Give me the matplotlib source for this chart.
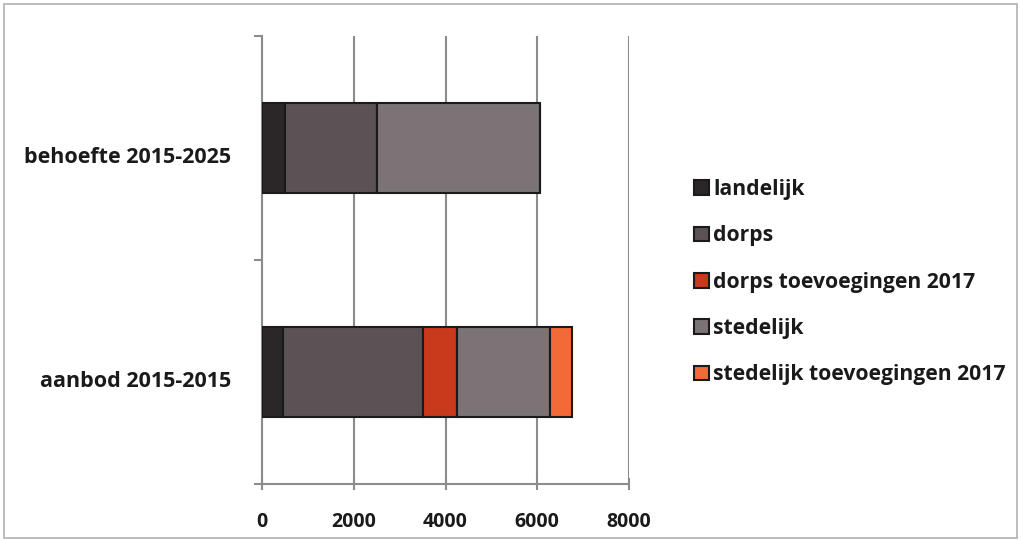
import matplotlib
matplotlib.use("Agg")
import matplotlib.pyplot as plt
from matplotlib.patches import Rectangle

categories = ["aanbod 2015-2015", "behoefte 2015-2025"]
series = ["landelijk", "dorps", "dorps toevoegingen 2017", "stedelijk", "stedelijk toevoegingen 2017"]
values = {
    "landelijk": [460, 500],
    "dorps": [3040, 2000],
    "dorps toevoegingen 2017": [750, 0],
    "stedelijk": [2030, 3550],
    "stedelijk toevoegingen 2017": [480, 0],
}
colors = ["#2b2627", "#5a5254", "#c9391b", "#7b7376", "#f26a36"]
xticks = [0, 2000, 4000, 6000, 8000]

plt.rcParams["font.family"] = ["Open Sans", "DejaVu Sans"]
plt.rcParams["font.weight"] = "bold"
plt.rcParams["text.color"] = "#1a1a1a"
plt.rcParams["xtick.labelcolor"] = "#1a1a1a"
plt.rcParams["ytick.labelcolor"] = "#1a1a1a"

fig = plt.figure(figsize=(10.21, 5.40), dpi=100)
ax = fig.add_axes([262 / 1021, 1 - 484 / 540, (629 - 262) / 1021, (484 - 36) / 540])

# stacked horizontal bars, one segment per series
left = [0, 0]
for name, col in zip(series, colors):
    vals = values[name]
    ax.barh([0, 1], vals, left=left, height=0.4, color=col,
            edgecolor="#1a1a1a", linewidth=1.5, label=name, zorder=3)
    left = [a + b for a, b in zip(left, vals)]

ax.set_xlim(0, 8000)
ax.set_ylim(-0.5, 1.5)
ax.set_xticks(xticks)
ax.set_xticklabels([str(t) for t in xticks], fontsize=14, fontweight="bold")
ax.xaxis.grid(True, color="#8c8c8c", linewidth=1.5, zorder=0)
ax.tick_params(axis="x", length=8, width=1.5, color="#8c8c8c", direction="inout", pad=16)

# ticks between categories, labels centred on the bars
ax.set_yticks([-0.5, 0.5, 1.5])
ax.set_yticklabels([])
ax.set_yticks([-0.03, 0.97], minor=True)
ax.set_yticklabels(categories, minor=True, fontsize=15.5, fontweight="bold")
ax.tick_params(axis="y", which="major", length=6, width=1.5, color="#8c8c8c")
ax.tick_params(axis="y", which="minor", length=0, pad=22)

for side in ["top", "right"]:
    ax.spines[side].set_visible(False)
for side in ["left", "bottom"]:
    ax.spines[side].set_color("#8c8c8c")
    ax.spines[side].set_linewidth(1.5)

leg = fig.legend(loc="upper left", bbox_to_anchor=(675 / 1021, 1 - 160 / 540),
                 frameon=False, fontsize=15.2, handlelength=0.7, handleheight=0.7,
                 handletextpad=0.2, labelspacing=1.2)
for h in leg.legend_handles:
    h.set_edgecolor("#1a1a1a")
    h.set_linewidth(1.5)

fig.patches.append(Rectangle((0.004, 0.004), 0.992, 0.988, transform=fig.transFigure,
                             fill=False, edgecolor="#b0b0b0", linewidth=1.2))

fig.savefig("out.png", dpi=100)
